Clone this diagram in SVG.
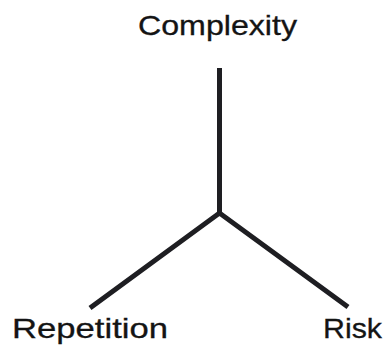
<svg xmlns="http://www.w3.org/2000/svg" width="385" height="347" viewBox="0 0 385 347">
<style>
.lbl{font-family:"Liberation Sans",Arial,sans-serif;font-size:28px;fill:#141414;stroke:#141414;stroke-width:0.3}
.ln{stroke:#1e1e22;stroke-width:5;fill:none;stroke-linejoin:miter}
</style>
<rect width="385" height="347" fill="#ffffff"/>
<g id="connectors">
<line class="ln" x1="219.5" y1="68" x2="219.5" y2="213"/>
<polyline class="ln" points="90,308 219.5,213 348,307"/>
</g>
<g id="complexity"><text class="lbl" x="138" y="35" textLength="159" lengthAdjust="spacingAndGlyphs">Complexity</text></g>
<g id="repetition"><text class="lbl" x="12" y="338" textLength="156" lengthAdjust="spacingAndGlyphs">Repetition</text></g>
<g id="risk"><text class="lbl" x="323" y="338" textLength="59" lengthAdjust="spacingAndGlyphs">Risk</text></g>
</svg>
